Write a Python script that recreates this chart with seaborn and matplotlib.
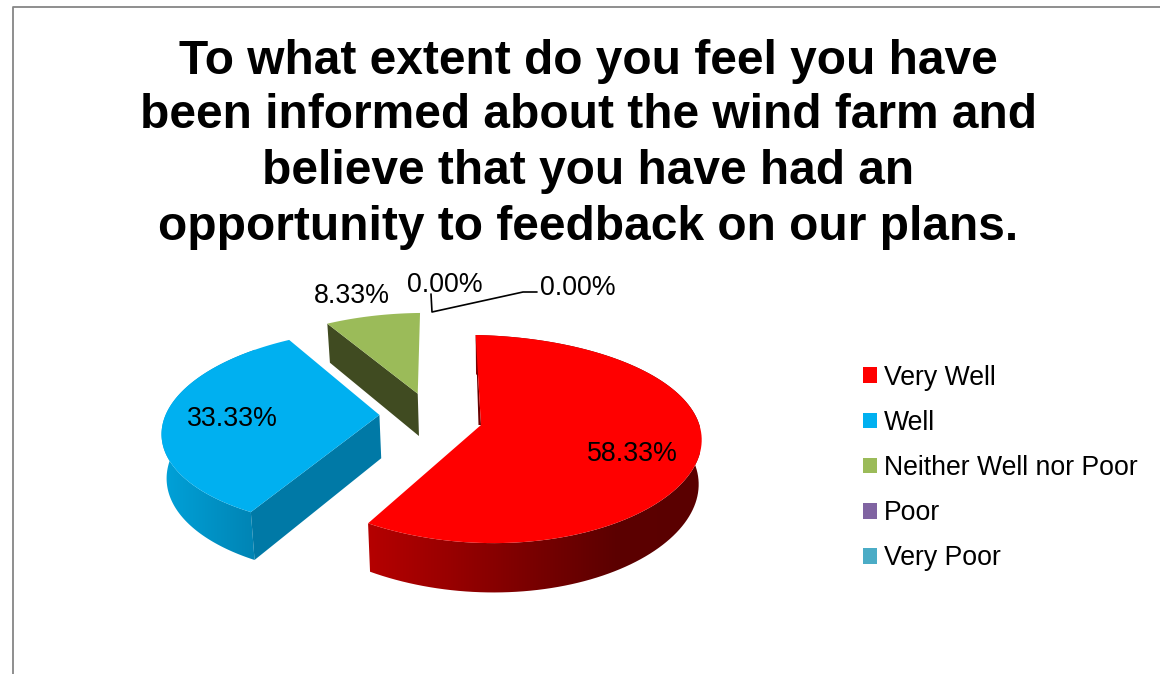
import numpy as np
import matplotlib
matplotlib.use("Agg")
import matplotlib.pyplot as plt
from matplotlib.colors import LinearSegmentedColormap
from matplotlib.patches import Patch, Polygon
import seaborn as sns

title_lines = [
    "To what extent do you feel you have",
    "been informed about the wind farm and",
    "believe that you have had an",
    "opportunity to feedback on our plans.",
]
categories = ["Very Well", "Well", "Neither Well nor Poor", "Poor", "Very Poor"]
values = [58.33, 33.33, 8.33, 0.00, 0.00]
colors = ["#FF0000", "#00B0F0", "#9BBB59", "#8064A2", "#4BACC6"]

# pie plane offsets of the exploded slices, in units of the radius
offsets = [(0, 0), (-0.468, 0.10), (-0.30, 0.32), (0, 0), (0, 0)]
# per slice look of the 3d view: horizontal perspective, tilt, radius
persp_x = [0.08, 0.135, 0.135, 0.135, 0.135]
tilt = [0.03, 0, 0, 0, 0]
radius = [1, 0.985, 0.97, 1, 1]
label_xy = [(632, 454), (232, 419), (352, 296), (445, 285), (578, 288)]
START = -1.5


def project(u, v, kx=0.135, s=0):
    x = 220 * u / (1 + kx * v)
    return 481 + x, 425 - 102 * v / (1 + 0.135 * v) + s * x


def extrude(x, y):
    return 500 + (x - 500) * 0.985, y + 39 + 0.047 * (y - 323)


def arc(a0, a1, i):
    t = np.radians(np.linspace(a0, a1, 120))
    u = offsets[i][0] + radius[i] * np.sin(t)
    v = offsets[i][1] + radius[i] * np.cos(t)
    return project(u, v, persp_x[i], tilt[i])


def side_poly(x, y):
    bx, by = extrude(x, y)
    return np.column_stack([np.r_[x, bx[::-1]], np.r_[y, by[::-1]]])


def gradient_fill(ax, poly, x0, x1, cols, zorder):
    cmap = LinearSegmentedColormap.from_list("side", cols)
    ymin, ymax = poly[:, 1].min() - 2, poly[:, 1].max() + 2
    im = ax.imshow(
        np.linspace(0, 1, 256).reshape(1, -1),
        cmap=cmap,
        extent=(x0, x1, ymax, ymin),
        aspect="auto",
        zorder=zorder,
    )
    clip = Polygon(poly, transform=ax.transData, fc="none", ec="none")
    ax.add_patch(clip)
    im.set_clip_path(clip)


def cut_face(ax, px, py, x0, y0, color):
    bx, by = extrude(np.array([px, x0]), np.array([py, y0]))
    ax.fill([px, x0, bx[1], bx[0]], [py, y0, by[1], by[0]], color=color, lw=0, zorder=3)


sns.set_theme(style="white")
plt.rcParams["font.family"] = ["Liberation Sans", "DejaVu Sans"]
palette = sns.color_palette(colors)

fig, ax = plt.subplots(figsize=(11.6, 6.74), dpi=100)
fig.subplots_adjust(0, 0, 1, 1)
ax.set_axis_off()

# chart border, runs off the right and bottom of the image
ax.plot([13, 13, 1175], [690, 7, 7], color="#868686", lw=1.3, zorder=1)

edges = START + np.r_[0, np.cumsum(values)] / sum(values) * 360
top_faces = {}
for i, val in enumerate(values):
    if val == 0:
        continue
    x, y = arc(edges[i], edges[i + 1], i)
    px, py = project(*offsets[i], persp_x[i], tilt[i])
    top_faces[i] = (x, y, px, py)

# red: outer wall and the thin sliver by the top edge
x, y, px, py = top_faces[0]
gradient_fill(
    ax, side_poly(x, y), 360, 700,
    ["#B80000", "#9A0000", "#7A0000", "#5C0000", "#5A0000"], 2,
)
ax.fill([x[0], px, px - 2.5], [y[0], py, py], color="#6A0000", lw=0, zorder=2)

# blue: outer wall and cut face
x, y, px, py = top_faces[1]
gradient_fill(ax, side_poly(x, y), 155, 255, ["#00A4DC", "#0084B4"], 2)
cut_face(ax, px, py, x[0], y[0], "#0079A6")

# green: cut face only
x, y, px, py = top_faces[2]
cut_face(ax, px, py, x[0], y[0], "#404B21")

for i, (x, y, px, py) in top_faces.items():
    ax.fill(np.r_[px, x], np.r_[py, y], color=palette[i], lw=0, zorder=4)

# leader line of the two empty slices
ax.plot([431, 432, 523, 537], [294, 312, 292, 292], color="black", lw=1.2, zorder=5)

for val, (lx, ly) in zip(values, label_xy):
    ax.text(lx, ly, f"{val:.2f}%", fontsize=19.3, ha="center", va="center", color="black", zorder=6)

for line, ty in zip(title_lines, [61, 116, 172, 227]):
    ax.text(588, ty, line, fontsize=34.5, fontweight="bold", ha="center", va="center", color="black")

handles = [Patch(fc=c, ec="none") for c in palette]
ax.legend(
    handles,
    categories,
    loc="center left",
    bbox_to_anchor=(863, 468),
    bbox_transform=ax.transData,
    frameon=False,
    fontsize=19.2,
    borderpad=0,
    borderaxespad=0,
    handlelength=0.52,
    handleheight=0.52,
    handletextpad=0.27,
    labelspacing=0.72,
    labelcolor="black",
)

ax.set_xlim(0, 1160)
ax.set_ylim(674, 0)
fig.savefig("out.png", dpi=100, facecolor="white")
